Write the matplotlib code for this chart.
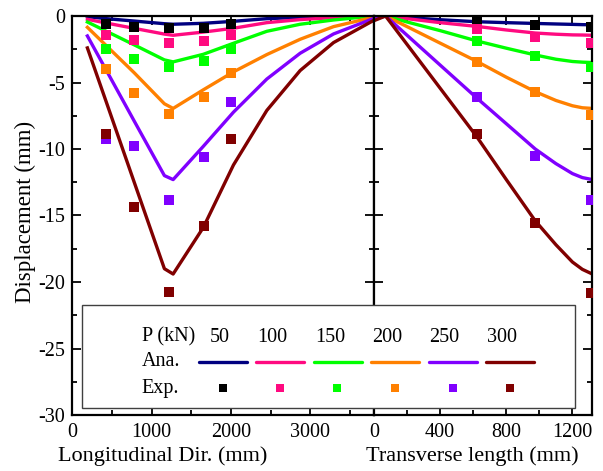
import matplotlib
matplotlib.use("Agg")
import matplotlib.pyplot as plt
from matplotlib.lines import Line2D
from matplotlib.patches import Rectangle
from matplotlib.ticker import MultipleLocator

plt.rcParams['font.family'] = ['Liberation Serif', 'DejaVu Serif']
plt.rcParams['axes.unicode_minus'] = False

# ---------------- data ----------------
loads = [50, 100, 150, 200, 250, 300]
line_colors = ['#000080', '#ff0a80', '#00ff00', '#ff8000', '#8000ff', '#800000']
exp_colors = ['#000000', '#ff0a80', '#00ff00', '#ff8000', '#8000ff', '#800000']

# Longitudinal direction - analytical
x_long_ana = [190, 430, 780, 1160, 1270, 1650, 2030, 2450, 2870, 3290, 3790]
ana_long_50 = [-0.05, -0.2, -0.38, -0.58, -0.62, -0.55, -0.4, -0.2, -0.1, -0.04, 0]
ana_long_100 = [-0.25, -0.53, -0.93, -1.36, -1.45, -1.21, -0.92, -0.5, -0.27, -0.12, 0]
ana_long_150 = [-0.45, -1.15, -2.17, -3.3, -3.45, -2.88, -2.05, -1.15, -0.62, -0.3, 0]
ana_long_200 = [-0.85, -2.24, -4.27, -6.6, -6.95, -5.55, -4.2, -2.9, -1.75, -0.8, -0.1]
ana_long_250 = [-1.5, -4.1, -7.9, -12.0, -12.3, -9.8, -7.23, -4.74, -2.8, -1.35, -0.2]
ana_long_300 = [-2.4, -6.5, -12.5, -19.0, -19.4, -15.9, -11.2, -7.1, -4.1, -2.0, -0.35]

# Longitudinal direction - experimental
x_long_exp = [430, 780, 1220, 1660, 2000]
exp_long_50 = [-0.6, -0.8, -0.9, -0.9, -0.6]
exp_long_100 = [-1.4, -1.8, -2.0, -1.9, -1.4]
exp_long_150 = [-2.45, -3.25, -3.8, -3.4, -2.5]
exp_long_200 = [-3.95, -5.8, -7.4, -6.1, -4.25]
exp_long_250 = [-9.25, -9.8, -13.8, -10.6, -6.5]
exp_long_300 = [-8.85, -14.35, -20.75, -15.8, -9.25]

# Transverse direction - analytical
x_tran_ana = [0, 70, 200, 400, 620, 800, 975, 1100, 1200, 1260, 1320]
ana_tran_50 = [0, 0, -0.12, -0.28, -0.43, -0.5, -0.56, -0.6, -0.63, -0.65, -0.66]
ana_tran_100 = [-0.05, 0, -0.2, -0.5, -0.78, -1.05, -1.28, -1.37, -1.42, -1.43, -1.45]
ana_tran_150 = [0, 0, -0.45, -1.1, -1.87, -2.42, -2.93, -3.25, -3.42, -3.47, -3.5]
ana_tran_200 = [-0.1, 0, -0.8, -2.04, -3.4, -4.6, -5.69, -6.35, -6.75, -6.9, -6.95]
ana_tran_250 = [-0.2, 0, -1.45, -3.69, -6.15, -8.1, -10.0, -11.1, -11.85, -12.15, -12.3]
ana_tran_300 = [-0.35, 0, -2.14, -5.43, -9.05, -12.3, -15.4, -17.2, -18.5, -19.05, -19.4]

# Transverse direction - experimental
x_tran_exp = [620, 975, 1310]
exp_tran_50 = [-0.43, -0.68, -0.82]
exp_tran_100 = [-1.0, -1.55, -2.0]
exp_tran_150 = [-1.9, -3.0, -3.85]
exp_tran_200 = [-3.43, -5.73, -7.43]
exp_tran_250 = [-6.08, -10.5, -13.8]
exp_tran_300 = [-8.9, -15.6, -20.8]

ana_long = [ana_long_50, ana_long_100, ana_long_150, ana_long_200, ana_long_250, ana_long_300]
exp_long = [exp_long_50, exp_long_100, exp_long_150, exp_long_200, exp_long_250, exp_long_300]
ana_tran = [ana_tran_50, ana_tran_100, ana_tran_150, ana_tran_200, ana_tran_250, ana_tran_300]
exp_tran = [exp_tran_50, exp_tran_100, exp_tran_150, exp_tran_200, exp_tran_250, exp_tran_300]

# ---------------- figure ----------------
W, H = 603, 471
fig = plt.figure(figsize=(W / 100, H / 100), dpi=100)

def fx(px):
    return px / W

def fy(py):
    return 1 - py / H

ax_l = fig.add_axes([fx(72.3), fy(415), fx(374) - fx(72.3), fy(16) - fy(415)])
ax_r = fig.add_axes([fx(374), fy(415), fx(592.3) - fx(374), fy(16) - fy(415)])

LW = 2.4
MS = 6.5
for i in range(len(loads)):
    ax_l.plot(x_long_ana, ana_long[i], color=line_colors[i], lw=LW, zorder=2,
              solid_joinstyle='round')
    ax_l.plot(x_long_exp, exp_long[i], ls='none', marker='s', ms=MS, mew=0,
              color=exp_colors[i], zorder=3)
    ax_r.plot(x_tran_ana, ana_tran[i], color=line_colors[i], lw=LW, zorder=2,
              solid_joinstyle='round')
    ax_r.plot(x_tran_exp, exp_tran[i], ls='none', marker='s', ms=MS, mew=0,
              color=exp_colors[i], zorder=3)

TICK_FS = 14.5
for ax in (ax_l, ax_r):
    ax.set_ylim(-30, 0)
    ax.yaxis.set_major_locator(MultipleLocator(5))
    ax.yaxis.set_minor_locator(MultipleLocator(2.5))
    ax.tick_params(which='both', direction='in', top=True, right=True,
                   labelsize=TICK_FS, width=1.3, colors='black')
    ax.tick_params(which='major', length=6.5, pad=6)
    ax.tick_params(which='minor', length=3.5)
    for sp in ax.spines.values():
        sp.set_linewidth(1.6)

ax_l.set_xlim(0, 3800)
ax_l.xaxis.set_major_locator(MultipleLocator(1000))
ax_l.xaxis.set_minor_locator(MultipleLocator(500))
ax_l.tick_params(axis='y', pad=5)

ax_r.set_xlim(0, 1320)
ax_r.xaxis.set_major_locator(MultipleLocator(400))
ax_r.xaxis.set_minor_locator(MultipleLocator(200))
ax_r.tick_params(axis='y', labelleft=False)

fig.text(fx(162.5), fy(456), 'Longitudinal Dir. (mm)', ha='center', va='center', fontsize=16)
fig.text(fx(472), fy(456), 'Transverse length (mm)', ha='center', va='center', fontsize=16)
fig.text(fx(25), fy(212), 'Displacement (mm)', ha='center', va='center',
         rotation=90, fontsize=16.5)

# ---------------- legend table ----------------
box = Rectangle((fx(82), fy(408)), fx(575) - fx(82), fy(305) - fy(408),
                transform=fig.transFigure, facecolor='white', edgecolor='#404040',
                lw=1.0, zorder=10)
fig.add_artist(box)

LEG_FS = 14.5
fig.text(fx(141.7), fy(337), 'P (kN)', ha='left', va='center', fontsize=LEG_FS, zorder=11)
fig.text(fx(141.7), fy(362), 'Ana.', ha='left', va='center', fontsize=LEG_FS, zorder=11)
fig.text(fx(141.7), fy(388), 'Exp.', ha='left', va='center', fontsize=LEG_FS, zorder=11)

label_cx = [220, 272, 330, 387, 444, 502]
line_cx = [222.5, 280, 337.5, 395, 452.5, 510]
for i in range(len(loads)):
    fig.text(fx(label_cx[i]), fy(337), str(loads[i]), ha='center', va='center',
             fontsize=LEG_FS, zorder=11)
    fig.add_artist(Line2D([fx(line_cx[i] - 24), fx(line_cx[i] + 24)], [fy(362), fy(362)],
                          transform=fig.transFigure, color=line_colors[i], lw=LW,
                          solid_capstyle='round', zorder=11))
    fig.add_artist(Line2D([fx(line_cx[i])], [fy(388)], transform=fig.transFigure,
                          ls='none', marker='s', ms=6.0, mew=0, color=exp_colors[i], zorder=11))

fig.savefig('out.png', dpi=100)
